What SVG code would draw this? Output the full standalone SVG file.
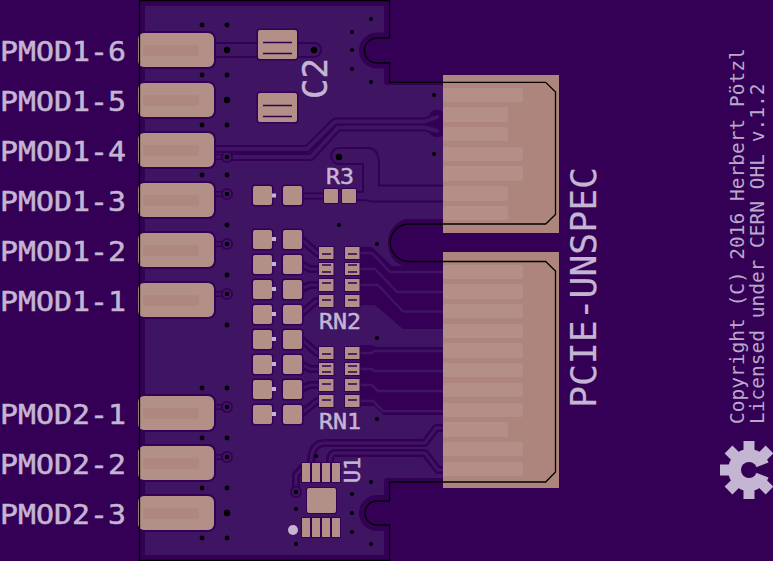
<svg xmlns="http://www.w3.org/2000/svg" width="773" height="561" viewBox="0 0 773 561">
<style>
.clr{fill:none;stroke:#330055;stroke-linejoin:round;stroke-linecap:round}
.tr{fill:none;stroke:#3f1462;stroke-linejoin:round;stroke-linecap:round}
.dk{fill:#330055}
.pl{fill:#3f1462}
.pad{fill:#b28f87;stroke:#330055;stroke-width:3;paint-order:stroke}
.conn{fill:#ad857c}
.fing{fill:#b38f87}
.band{fill:#ae887f}
.v{fill:#000}
.mark{fill:#c4b5d3}
.ln{stroke:#330055;stroke-width:1.4}
text{font-family:"DejaVu Sans Mono","Liberation Mono",monospace;fill:#c4b5d3;stroke:#c4b5d3;stroke-width:.5}
.lab{font-size:26px}
.small{font-size:22px}
.copy{font-size:19.5px;fill:#b9a8ca;stroke:none}
</style>
<defs>
<g id="ring"><circle r="6" fill="#330055"/><circle r="4.3" fill="#3f1462"/><circle r="2.3" fill="#000"/></g>
<rect id="sq" width="19" height="19" rx="2" class="pad"/>
<rect id="wht" x="-2" y="-2" width="4" height="4" class="mark"/>
<rect id="rn" width="14.5" height="12" class="pad" style="stroke-width:2"/>
<g id="finger"><rect x="138" width="76" height="34" rx="6" class="pad" style="stroke-width:4"/><rect x="143" y="12" width="56" height="11" rx="3" class="band"/></g>
<rect id="tooth" x="-5.5" y="-29" width="11" height="12" fill="#c4b5d3"/>
</defs>

<rect width="773" height="561" fill="#330055"/>
<path id="plane" class="pl" d="M145 6H384V82Q384 85 387 85H443V478H387Q384 478 384 481V555H145Z"/>

<g id="clearance">
<path class="dk" d="M377 32.5A18 18 0 0 0 377 68.5H390V32.5Z"/>
<path class="dk" d="M377 495A18 18 0 0 0 377 531H390V495Z"/>
<path class="dk" d="M443 219H406A24 24 0 0 0 388 243Q388 262 406 267H443Z"/>
<path class="dk" d="M360 247H372L392 266H443V329H403L375 305H360Z"/>
<path class="dk" d="M360 345H372L377 347H443V415H384L374 406H360Z"/>
<rect class="dk" x="429" y="110" width="16" height="27" rx="7"/>
</g>

<g id="connectors">
<g class="clr" stroke-width="8">
<path d="M214 149H307L335 121.5H425L437 117"/>
<path d="M227 157H311L338 127.5H425L437 131"/>
<path d="M443 428H436L425 443H325Q311 443 311 463"/>
<path d="M443 470H438L425 453H335Q330 453 330 463"/>
<path d="M296 492V475L304 466"/>
<path d="M301 196H324" stroke-width="7"/>
<path d="M301 239L317 253H320"/>
<path d="M301 264L310 269H320"/>
<path d="M301 289L310 285H320"/>
<path d="M301 314L316 301H320"/>
<path d="M301 339L317 353H320"/>
<path d="M301 364L310 369H320"/>
<path d="M301 389L310 385H320"/>
<path d="M301 414L317 401H320"/>
<path d="M357 196H367L370 194L376 196" stroke-width="10"/>
<path d="M339 156H368Q371 156 371 165V193.5H443" stroke-width="18"/>
<path d="M214 50H314" stroke-width="16"/>
<path d="M214 157H227M214 194H227M214 244H227M214 294H227M214 407H227M214 457H227" stroke-width="6"/>
</g>
<g class="tr" stroke-width="4">
<path d="M214 149H307L335 121.5H425L437 117"/>
<path d="M227 157H311L338 127.5H425L437 131"/>
<path d="M443 428H436L425 443H325Q311 443 311 463" stroke-width="3"/>
<path d="M443 470H438L425 453H335Q330 453 330 463" stroke-width="3"/>
<path d="M296 492V475L304 466" stroke-width="3"/>
<path d="M301 196H324" stroke-width="3.5"/>
<path d="M301 239L317 253H320" stroke-width="3"/>
<path d="M301 264L310 269H320" stroke-width="3"/>
<path d="M301 289L310 285H320" stroke-width="3"/>
<path d="M301 314L316 301H320" stroke-width="3"/>
<path d="M301 339L317 353H320" stroke-width="3"/>
<path d="M301 364L310 369H320" stroke-width="3"/>
<path d="M301 389L310 385H320" stroke-width="3"/>
<path d="M301 414L317 401H320" stroke-width="3"/>
<path d="M357 196H367L370 194L376 196" stroke-width="6.5"/>
<path d="M339 156H368Q371 156 371 165V193.5H443" stroke-width="14"/>
<path d="M214 50H314" stroke-width="12"/>
<path d="M214 157H227M214 194H227M214 244H227M214 294H227M214 407H227M214 457H227" stroke-width="3"/>
<g stroke-width="2.5">
<path d="M360 253H372L390 272H443"/>
<path d="M360 269H375L397 292H443"/>
<path d="M360 285H378L403 311.5H443"/>
<path d="M360 353H372L374 351H443"/>
<path d="M360 369H372L374 371H443"/>
<path d="M360 385H372L378 391H443"/>
<path d="M360 401H373L383 411H443"/>
</g>
</g>
</g>

<g id="vias">
<g class="v">
<circle cx="202" cy="25" r="2.4"/><circle cx="227" cy="25" r="2.4"/><circle cx="202" cy="75" r="2.4"/><circle cx="227" cy="75" r="2.4"/><circle cx="202" cy="125" r="2.4"/><circle cx="227" cy="125" r="2.4"/><circle cx="202" cy="175" r="2.4"/><circle cx="227" cy="175" r="2.4"/><circle cx="227" cy="225" r="2.4"/><circle cx="227" cy="275" r="2.4"/><circle cx="227" cy="325" r="2.4"/>
<circle cx="371" cy="19" r="2"/><circle cx="352" cy="32" r="2"/><circle cx="352" cy="50" r="2"/><circle cx="352" cy="69" r="2"/><circle cx="371" cy="82" r="2"/>
<circle cx="227" cy="50" r="3.2"/><circle cx="314" cy="50" r="3.2"/><circle cx="227" cy="100" r="3.2"/><circle cx="339" cy="157" r="3.2"/><circle cx="227" cy="513" r="3.2"/>
<circle cx="434" cy="95" r="2"/><circle cx="434" cy="154" r="2"/><circle cx="339" cy="225" r="2"/><circle cx="377" cy="244" r="2"/><circle cx="377" cy="338" r="2"/><circle cx="377" cy="419" r="2"/>
<circle cx="202" cy="388" r="2.4"/><circle cx="227" cy="388" r="2.4"/><circle cx="202" cy="438" r="2.4"/><circle cx="227" cy="438" r="2.4"/><circle cx="202" cy="488" r="2.4"/><circle cx="227" cy="488" r="2.4"/><circle cx="202" cy="538" r="2.4"/><circle cx="227" cy="538" r="2.4"/>
<circle cx="316" cy="456" r="2"/><circle cx="296" cy="509" r="2"/><circle cx="296" cy="544" r="2"/><circle cx="371" cy="482" r="2"/><circle cx="352" cy="494" r="2"/><circle cx="352" cy="513" r="2"/><circle cx="352" cy="532" r="2"/><circle cx="371" cy="544" r="2"/>
</g>
<use href="#ring" x="227" y="157"/><use href="#ring" x="227" y="194"/><use href="#ring" x="227" y="244"/><use href="#ring" x="227" y="294"/><use href="#ring" x="227" y="407"/><use href="#ring" x="227" y="457"/><use href="#ring" x="296" y="492"/>
</g>

<g id="pmod-fingers">
<use href="#finger" y="33"/><use href="#finger" y="83"/><use href="#finger" y="133"/><use href="#finger" y="183"/><use href="#finger" y="233"/><use href="#finger" y="283"/><use href="#finger" y="396"/><use href="#finger" y="446"/><use href="#finger" y="496"/>
</g>

<g id="pcie-top">
<rect class="conn" x="443" y="75" width="116" height="158"/>
<rect class="fing" x="443" y="88" width="80" height="14" rx="2"/><rect class="fing" x="443" y="107" width="65" height="15" rx="2"/><rect class="fing" x="443" y="127" width="65" height="14" rx="2"/><rect class="fing" x="443" y="147" width="80" height="14" rx="2"/><rect class="fing" x="443" y="166" width="80" height="15" rx="2"/><rect class="fing" x="443" y="186" width="65" height="15" rx="2"/><rect class="fing" x="443" y="206" width="65" height="14" rx="2"/>
</g>
<g id="pcie-bottom">
<rect class="conn" x="443" y="252" width="116" height="236"/>
<rect class="fing" x="443" y="265" width="80" height="14" rx="2"/><rect class="fing" x="443" y="284" width="80" height="15" rx="2"/><rect class="fing" x="443" y="304" width="80" height="14" rx="2"/><rect class="fing" x="443" y="324" width="80" height="14" rx="2"/><rect class="fing" x="443" y="343" width="80" height="15" rx="2"/><rect class="fing" x="443" y="363" width="80" height="14" rx="2"/><rect class="fing" x="443" y="383" width="80" height="14" rx="2"/><rect class="fing" x="443" y="403" width="80" height="14" rx="2"/><rect class="fing" x="443" y="422" width="65" height="15" rx="2"/><rect class="fing" x="443" y="442" width="80" height="14" rx="2"/><rect class="fing" x="443" y="462" width="80" height="14" rx="2"/>
</g>

<g id="C2">
<rect class="pad" x="258" y="30" width="39" height="29" rx="2"/><rect class="pad" x="258" y="93" width="39" height="29" rx="2"/>
<path class="ln" d="M263 42.500H292M263 53.500H292M263 105.500H292M263 116.500H292"/>
<text transform="translate(327,99) rotate(-90)" font-size="34" textLength="41" lengthAdjust="spacingAndGlyphs">C2</text>
</g>

<g id="R3">
<rect class="pad" x="324" y="189" width="14" height="14" rx="1" style="stroke-width:2"/><rect class="pad" x="342" y="189" width="14" height="14" rx="1" style="stroke-width:2"/>
<text class="small" x="326" y="184" textLength="28" lengthAdjust="spacingAndGlyphs">R3</text>
</g>

<g id="pads">
<use href="#sq" x="253" y="186"/><use href="#sq" x="283" y="186"/>
<use href="#sq" x="253" y="230"/><use href="#sq" x="283" y="230"/>
<use href="#sq" x="253" y="255"/><use href="#sq" x="283" y="255"/>
<use href="#sq" x="253" y="280"/><use href="#sq" x="283" y="280"/>
<use href="#sq" x="253" y="305"/><use href="#sq" x="283" y="305"/>
<use href="#sq" x="253" y="330"/><use href="#sq" x="283" y="330"/>
<use href="#sq" x="253" y="355"/><use href="#sq" x="283" y="355"/>
<use href="#sq" x="253" y="380"/><use href="#sq" x="283" y="380"/>
<use href="#sq" x="253" y="405"/><use href="#sq" x="283" y="405"/>
<use href="#wht" x="274" y="195.500"/><use href="#wht" x="274" y="239"/><use href="#wht" x="274" y="264"/><use href="#wht" x="274" y="289"/><use href="#wht" x="274" y="314"/><use href="#wht" x="274" y="339"/><use href="#wht" x="274" y="364"/><use href="#wht" x="274" y="389"/><use href="#wht" x="274" y="414"/>
</g>

<g id="RN2">
<use href="#rn" x="319" y="247"/><use href="#rn" x="345" y="247"/><use href="#rn" x="319" y="263"/><use href="#rn" x="345" y="263"/><use href="#rn" x="319" y="279"/><use href="#rn" x="345" y="279"/><use href="#rn" x="319" y="295"/><use href="#rn" x="345" y="295"/>
<path class="ln" d="M322 254H331M348 254H357M322 265H331M348 265H357M322 272H331M348 272H357M322 283H331M348 283H357M322 300H331M348 300H357"/>
<text class="small" x="319" y="329" textLength="42" lengthAdjust="spacingAndGlyphs">RN2</text>
</g>
<g id="RN1">
<use href="#rn" x="319" y="347"/><use href="#rn" x="345" y="347"/><use href="#rn" x="319" y="363"/><use href="#rn" x="345" y="363"/><use href="#rn" x="319" y="379"/><use href="#rn" x="345" y="379"/><use href="#rn" x="319" y="395"/><use href="#rn" x="345" y="395"/>
<path class="ln" d="M322 354H331M348 354H357M322 366H331M348 366H357M322 372H331M348 372H357M322 384H331M348 384H357M322 400H331M348 400H357"/>
<text class="small" x="319" y="429" textLength="42" lengthAdjust="spacingAndGlyphs">RN1</text>
</g>

<g id="U1">
<rect class="pad" x="302" y="463" width="8" height="19" style="stroke-width:2"/><rect class="pad" x="312" y="463" width="8" height="19" style="stroke-width:2"/><rect class="pad" x="322" y="463" width="8" height="19" style="stroke-width:2"/><rect class="pad" x="332" y="463" width="8" height="19" style="stroke-width:2"/>
<rect class="pad" x="307" y="488" width="29" height="25" rx="2" style="stroke-width:2"/>
<rect class="pad" x="302" y="518" width="8" height="19" style="stroke-width:2"/><rect class="pad" x="312" y="518" width="8" height="19" style="stroke-width:2"/><rect class="pad" x="322" y="518" width="8" height="19" style="stroke-width:2"/><rect class="pad" x="332" y="518" width="8" height="19" style="stroke-width:2"/>
<circle class="mark" cx="293" cy="530" r="5"/>
<text class="small" transform="translate(360,483) rotate(-90)" textLength="26" lengthAdjust="spacingAndGlyphs">U1</text>
</g>

<path id="outline" fill="none" stroke="#000" stroke-width="1.3" d="M139.500 0.500V560.500H389.500V525H377A12 12 0 0 1 377 501H389.500V482H545.700L555.500 472V271L545.700 261.500H409A18.750 18.750 0 0 1 409 224H545.700L555.500 214.500V92L545.700 82.300H389.500V63H377A12.500 12.500 0 0 1 377 38H389.500V0.500Z"/>

<g id="labels">
<text class="lab" x="0" y="61" textLength="126" lengthAdjust="spacingAndGlyphs">PMOD1-6</text>
<text class="lab" x="0" y="111" textLength="126" lengthAdjust="spacingAndGlyphs">PMOD1-5</text>
<text class="lab" x="0" y="161" textLength="126" lengthAdjust="spacingAndGlyphs">PMOD1-4</text>
<text class="lab" x="0" y="211" textLength="126" lengthAdjust="spacingAndGlyphs">PMOD1-3</text>
<text class="lab" x="0" y="261" textLength="126" lengthAdjust="spacingAndGlyphs">PMOD1-2</text>
<text class="lab" x="0" y="311" textLength="126" lengthAdjust="spacingAndGlyphs">PMOD1-1</text>
<text class="lab" x="0" y="424" textLength="126" lengthAdjust="spacingAndGlyphs">PMOD2-1</text>
<text class="lab" x="0" y="474" textLength="126" lengthAdjust="spacingAndGlyphs">PMOD2-2</text>
<text class="lab" x="0" y="524" textLength="126" lengthAdjust="spacingAndGlyphs">PMOD2-3</text>
<text transform="translate(596,408) rotate(-90)" font-size="36" textLength="241" lengthAdjust="spacingAndGlyphs" style="stroke-width:.2">PCIE-UNSPEC</text>
<text class="copy" transform="translate(744,424) rotate(-90)">Copyright (C) 2016 Herbert Pötzl</text>
<text class="copy" transform="translate(764,424) rotate(-90)">Licensed under CERN OHL v.1.2</text>
</g>

<g id="gear" transform="translate(749,470)">
<circle r="21" fill="#c4b5d3"/>
<use href="#tooth"/><use href="#tooth" transform="rotate(45)"/><use href="#tooth" transform="rotate(135)"/><use href="#tooth" transform="rotate(180)"/><use href="#tooth" transform="rotate(225)"/><use href="#tooth" transform="rotate(270)"/><use href="#tooth" transform="rotate(315)"/>
<path class="dk" d="M0 0L26 -10V10Z"/>
<circle r="8" fill="#330055"/>
</g>
</svg>
